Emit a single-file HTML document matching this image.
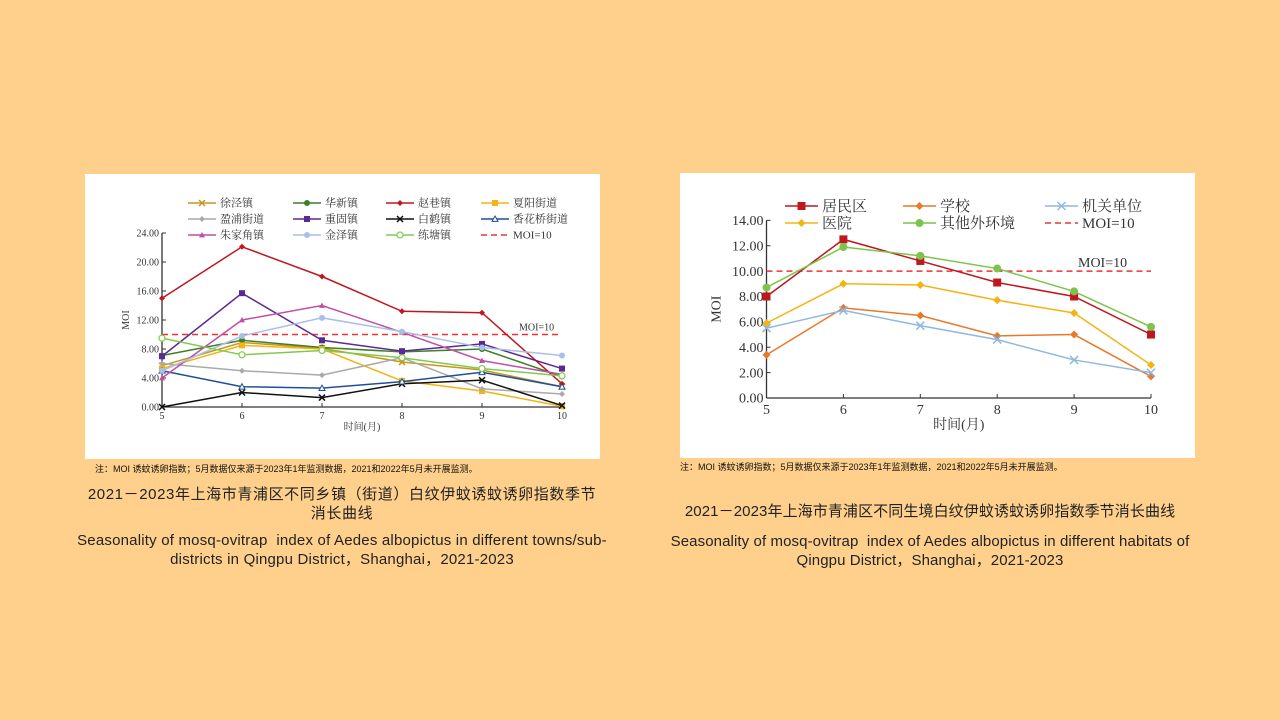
<!DOCTYPE html>
<html><head><meta charset="utf-8"><style>
body{margin:0;width:1280px;height:720px;background:#FFD08C;position:relative;overflow:hidden;font-family:"Liberation Sans","Noto Sans CJK SC",sans-serif}
.box{position:absolute;background:#fff}
.t{position:absolute;text-align:center;color:#222;font-size:15px;line-height:19px;white-space:nowrap}
.n{position:absolute;font-size:9px;color:#111}
svg text{font-family:"Liberation Serif","Noto Serif CJK SC",serif;fill:#333}
</style></head><body>
<div class="box" style="left:85px;top:174px;width:515px;height:285px"><svg id="L" width="515" height="285"></svg></div>
<div class="box" style="left:680px;top:173px;width:515px;height:285px"><svg id="R" width="515" height="285"></svg></div>
<div class="n" style="left:95px;top:462px">注：MOI 诱蚊诱卵指数；5月数据仅来源于2023年1年监测数据，2021和2022年5月未开展监测。</div>
<div class="n" style="left:680px;top:460px">注：MOI 诱蚊诱卵指数；5月数据仅来源于2023年1年监测数据，2021和2022年5月未开展监测。</div>
<div class="t" style="left:42px;width:600px;top:485px;letter-spacing:0.6px">2021－2023年上海市青浦区不同乡镇（街道）白纹伊蚊诱蚊诱卵指数季节<br>消长曲线</div>
<div class="t" style="left:42px;width:600px;top:531px;letter-spacing:0.2px">Seasonality of mosq-ovitrap&nbsp; index of Aedes albopictus in different towns/sub-<br>districts in Qingpu District，Shanghai，2021-2023</div>
<div class="t" style="left:630px;width:600px;top:502px;letter-spacing:0.1px">2021－2023年上海市青浦区不同生境白纹伊蚊诱蚊诱卵指数季节消长曲线</div>
<div class="t" style="left:630px;width:600px;top:532px;letter-spacing:0.1px">Seasonality of mosq-ovitrap&nbsp; index of Aedes albopictus in different habitats of<br>Qingpu District，Shanghai，2021-2023</div>
<script>
function mk(id,o){
 const s=document.getElementById(id);let h='';
 const X=i=>o.x0+i*o.dx, Y=v=>o.y0-v*o.k;
 h+=`<line x1="${o.x0}" y1="${Y(o.max)}" x2="${o.x0}" y2="${o.y0}" stroke="#333" stroke-width="1.3"/><line x1="${o.x0}" y1="${o.y0}" x2="${X(5)}" y2="${o.y0}" stroke="#333" stroke-width="1.3"/>`;
 for(let v=0;v<=o.max;v+=o.step){h+=`<line x1="${o.x0}" y1="${Y(v)}" x2="${o.x0+4}" y2="${Y(v)}" stroke="#333"/><text x="${o.x0-3}" y="${Y(v)+o.fs/3}" font-size="${o.fs}" text-anchor="end">${v.toFixed(2)}</text>`;}
 for(let i=0;i<6;i++){h+=`<line x1="${X(i)}" y1="${o.y0}" x2="${X(i)}" y2="${o.y0-4}" stroke="#333"/><text x="${X(i)}" y="${o.y0+o.fs+2}" font-size="${o.fs}" text-anchor="middle">${i+5}</text>`;}
 h+=`<text x="${(o.x0+X(5))/2}" y="${o.y0+o.fs*2+3}" font-size="${o.fs}" text-anchor="middle">时间(月)</text>`;
 h+=`<text transform="translate(${o.x0-o.fs*3.3},${Y(o.max/2)}) rotate(-90)" font-size="${o.fs}" text-anchor="middle">MOI</text>`;
 h+=`<line x1="${o.x0}" y1="${Y(10)}" x2="${X(5)}" y2="${Y(10)}" stroke="#e33" stroke-width="1.5" stroke-dasharray="6,4"/><text x="${o.mx}" y="${Y(10)-4}" font-size="${o.fs}">MOI=10</text>`;
 function mark(x,y,c,m,r){
  if(m=='s')return `<rect x="${x-r}" y="${y-r}" width="${2*r}" height="${2*r}" fill="${c}"/>`;
  if(m=='o')return `<circle cx="${x}" cy="${y}" r="${r}" fill="#fff" stroke="${c}" stroke-width="1.2"/>`;
  if(m=='x')return `<path d="M${x-r} ${y-r}L${x+r} ${y+r}M${x-r} ${y+r}L${x+r} ${y-r}" stroke="${c}" stroke-width="1.5"/>`;
  if(m=='^')return `<path d="M${x} ${y-r}L${x+r} ${y+r*0.8}L${x-r} ${y+r*0.8}Z" fill="${c}"/>`;
  if(m=='t')return `<path d="M${x} ${y-r}L${x+r} ${y+r*0.8}L${x-r} ${y+r*0.8}Z" fill="#fff" stroke="${c}"/>`;
  if(m=='d')return `<path d="M${x} ${y-r}L${x+r} ${y}L${x} ${y+r}L${x-r} ${y}Z" fill="${c}"/>`;
  return `<circle cx="${x}" cy="${y}" r="${r}" fill="${c}"/>`;
 }
 o.ser.forEach(S=>{
  h+=`<polyline fill="none" stroke="${S.c}" stroke-width="1.5" points="${S.d.map((v,i)=>X(i)+','+Y(v)).join(' ')}"/>`;
  S.d.forEach((v,i)=>h+=mark(X(i),Y(v),S.c,S.m,o.r));
 });
 o.leg.forEach(L=>{
  if(L.dash) h+=`<line x1="${L.x}" y1="${L.y}" x2="${L.x+o.ll}" y2="${L.y}" stroke="#e33" stroke-width="1.5" stroke-dasharray="6,4"/>`;
  else h+=`<line x1="${L.x}" y1="${L.y}" x2="${L.x+o.ll}" y2="${L.y}" stroke="${L.s.c}" stroke-width="1.5"/>`+mark(L.x+o.ll/2,L.y,L.s.c,L.s.m,o.r);
  h+=`<text x="${L.x+o.ll+4}" y="${L.y+o.lfs/3}" font-size="${o.lfs}">${L.t}</text>`;
 });
 s.innerHTML=h;
}
const A=[
{n:'徐泾镇',c:'#c8961e',m:'x',d:[5.7,8.9,8.1,6.2,5.1,2.8]},
{n:'华新镇',c:'#3f7f2a',m:'c',d:[7.1,9.2,8.2,7.6,8,4.2]},
{n:'赵巷镇',c:'#c0161d',m:'d',d:[15,22.1,18,13.2,13,3.2]},
{n:'夏阳街道',c:'#f5b312',m:'s',d:[5.3,8.5,8,3.6,2.2,0.1]},
{n:'盈浦街道',c:'#aaaaaa',m:'d',d:[6,5,4.4,6.8,2.5,1.8]},
{n:'重固镇',c:'#5b2a8f',m:'s',d:[7,15.7,9.2,7.7,8.7,5.3]},
{n:'白鹤镇',c:'#111',m:'x',d:[0,2,1.3,3.2,3.7,0.2]},
{n:'香花桥街道',c:'#1f4f99',m:'t',d:[5,2.8,2.6,3.5,4.8,2.8]},
{n:'朱家角镇',c:'#c04fa8',m:'^',d:[4,12,14,10.3,6.4,4.5]},
{n:'金泽镇',c:'#a8bfe8',m:'c',d:[5,9.8,12.3,10.4,8.2,7.1]},
{n:'练塘镇',c:'#7fcc4a',m:'o',d:[9.5,7.2,7.8,6.8,5.3,4.3]}];
const lx=[103,208,301,396],ly=[29,45,61];
const legA=A.map((s,i)=>({x:lx[i%4],y:ly[Math.floor(i/4)],t:s.n,s}));legA.push({x:lx[3],y:ly[2],t:'MOI=10',dash:1});
mk('L',{x0:77,dx:80,y0:233,k:7.25,max:24,step:4,fs:10,mx:434,r:3,ser:A,leg:legA,ll:28,lfs:11});
const B=[
{n:'居民区',c:'#c0161d',m:'s',d:[8,12.5,10.8,9.1,8,5]},
{n:'学校',c:'#e8792a',m:'d',d:[3.4,7.1,6.5,4.9,5,1.7]},
{n:'机关单位',c:'#8fb8e0',m:'x',d:[5.5,6.9,5.7,4.6,3,2]},
{n:'医院',c:'#f5b312',m:'d',d:[5.9,9,8.9,7.7,6.7,2.6]},
{n:'其他外环境',c:'#7cc44a',m:'c',d:[8.7,11.9,11.2,10.2,8.4,5.6]}];
const bx=[105,223,365],by=[33,50];
const legB=B.map((s,i)=>({x:bx[i%3],y:by[Math.floor(i/3)],t:s.n,s}));legB.push({x:bx[2],y:by[1],t:'MOI=10',dash:1});
mk('R',{x0:86.5,dx:76.9,y0:225,k:12.69,max:14,step:2,fs:14,mx:398,r:4,ser:B,leg:legB,ll:33,lfs:15});
</script>
</body></html>
